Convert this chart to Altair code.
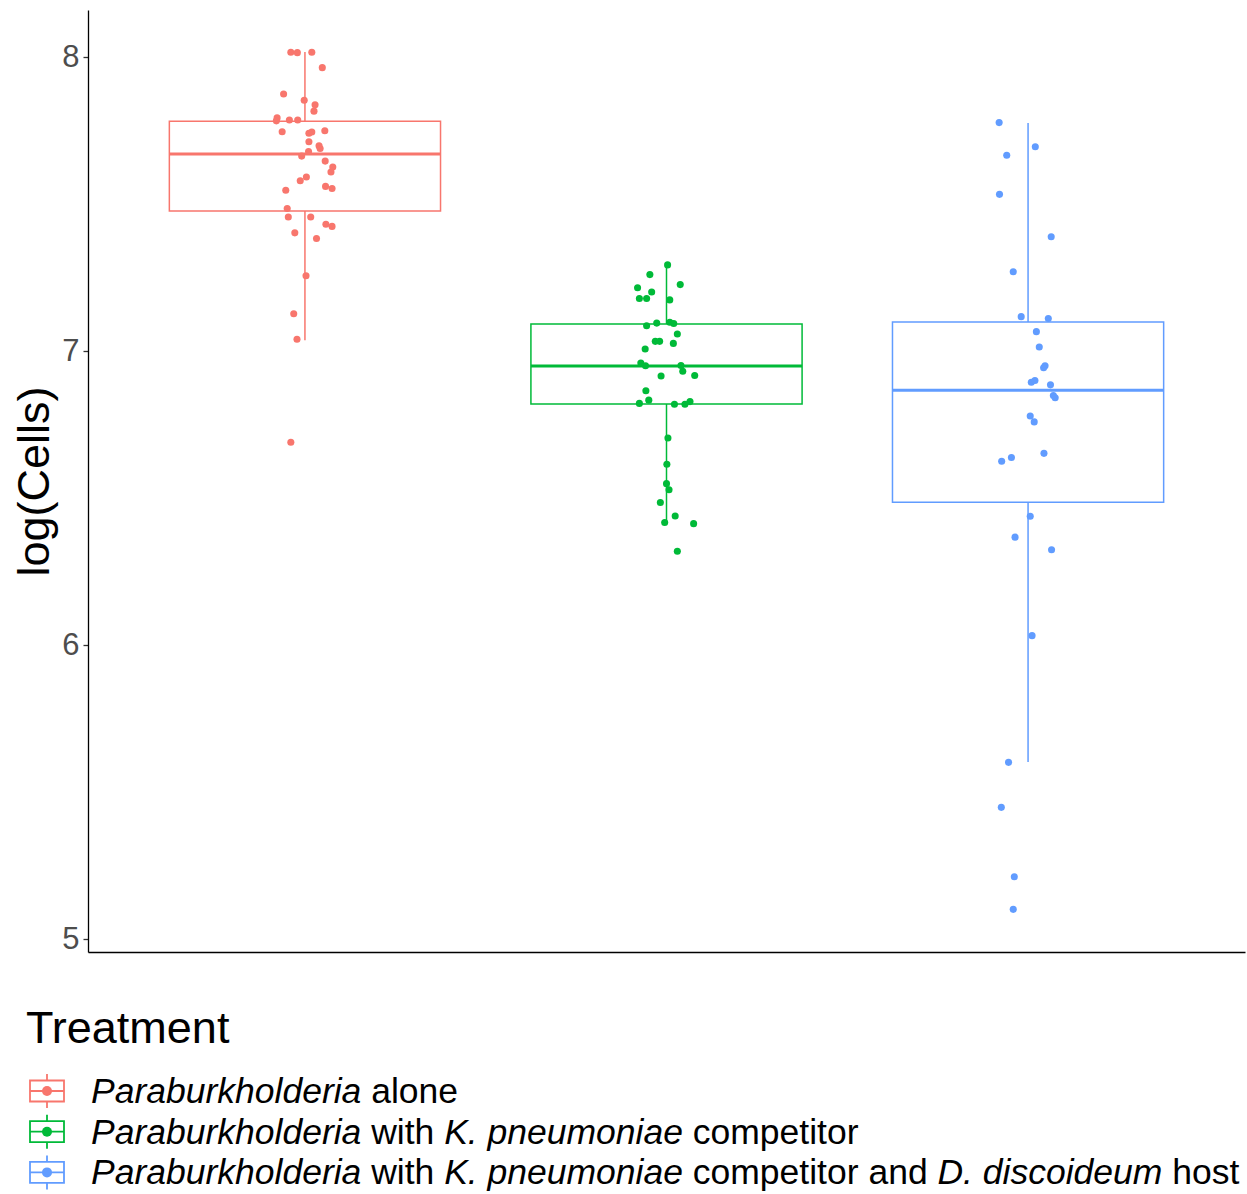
import altair as alt
import pandas as pd

# ---------------- data ----------------
treatments = [
    "Paraburkholderia alone",
    "Paraburkholderia with K. pneumoniae competitor",
    "Paraburkholderia with K. pneumoniae competitor and D. discoideum host",
]
colors = ["#F8766D", "#00BA38", "#619CFF"]

red_vals = [8.016, 8.015, 8.016, 7.964, 7.874, 7.853, 7.838, 7.816, 7.793, 7.783,
            7.786, 7.786, 7.746, 7.741, 7.745, 7.749, 7.712, 7.698, 7.689, 7.679,
            7.663, 7.646, 7.626, 7.609, 7.592, 7.579, 7.560, 7.553, 7.547, 7.485,
            7.456, 7.456, 7.431, 7.424, 7.402, 7.383, 7.256, 7.127, 7.040, 6.690]
red_jit = [-0.039, -0.021, 0.019, 0.048, -0.059, -0.002, 0.028, 0.025, -0.077, -0.079,
           -0.043, -0.020, -0.063, 0.011, 0.019, 0.055, 0.011, 0.039, 0.042, 0.010,
           -0.009, 0.056, 0.077, 0.072, 0.004, -0.013, 0.057, 0.075, -0.053, -0.049,
           -0.046, 0.016, 0.058, 0.075, -0.028, 0.032, 0.003, -0.031, -0.022, -0.039]

green_vals = [7.293, 7.260, 7.226, 7.215, 7.201, 7.179, 7.179, 7.174, 7.095, 7.086,
              7.098, 7.094, 7.058, 7.033, 7.033, 7.026, 7.007, 6.959, 6.950, 6.951,
              6.931, 6.915, 6.917, 6.865, 6.833, 6.822, 6.819, 6.819, 6.828, 6.704,
              6.615, 6.549, 6.528, 6.485, 6.439, 6.417, 6.413, 6.319]
green_jit = [0.003, -0.046, 0.038, -0.080, -0.041, -0.075, -0.055, 0.009, -0.027, -0.055,
             0.009, 0.020, 0.030, -0.031, -0.019, 0.019, -0.059, -0.071, -0.058, 0.040,
             0.045, -0.015, 0.078, -0.057, -0.049, -0.075, 0.022, 0.051, 0.065, 0.004,
             0.001, 0.000, 0.007, -0.017, 0.024, -0.005, 0.075, 0.030]

blue_vals = [7.777, 7.695, 7.666, 7.533, 7.389, 7.270, 7.117, 7.111, 7.066, 7.014,
             6.943, 6.950, 6.894, 6.900, 6.885, 6.849, 6.841, 6.779, 6.759, 6.652,
             6.638, 6.625, 6.438, 6.367, 6.324, 6.032, 5.601, 5.448, 5.212, 5.101]
blue_jit = [-0.080, 0.020, -0.059, -0.079, 0.064, -0.041, -0.019, 0.056, 0.023, 0.031,
            0.043, 0.047, 0.009, 0.019, 0.062, 0.070, 0.075, 0.006, 0.017, 0.044,
            -0.046, -0.073, 0.006, -0.036, 0.065, 0.011, -0.054, -0.074, -0.038, -0.041]

# box statistics (whisker ends, quartiles, median)
box_lower = [7.037, 6.418, 5.602]
box_q1 = [7.476, 6.820, 6.486]
box_median = [7.670, 6.949, 6.867]
box_q3 = [7.782, 7.092, 7.099]
box_upper = [8.017, 7.293, 7.776]

y_ticks = [5, 6, 7, 8]

# ---------------- tables ----------------
rows = []
for i, (vals, jit) in enumerate([(red_vals, red_jit), (green_vals, green_jit), (blue_vals, blue_jit)]):
    for v, j in zip(vals, jit):
        rows.append({"treatment": treatments[i], "pos": i + 1 + j, "cells": v})
pts = pd.DataFrame(rows)

BOX_HALF = 0.375
box = pd.DataFrame({
    "treatment": treatments,
    "pos": [1, 2, 3],
    "left": [k - BOX_HALF for k in (1, 2, 3)],
    "right": [k + BOX_HALF for k in (1, 2, 3)],
    "lower": box_lower, "q1": box_q1, "median": box_median,
    "q3": box_q3, "upper": box_upper,
})

FONT = "Liberation Sans"
xscale = alt.Scale(domain=[0.4, 3.6], nice=False, zero=False)
yscale = alt.Scale(domain=[4.956, 8.160], nice=False, zero=False)
xaxis = alt.Axis(labels=False, ticks=False, title=None, grid=False,
                 domainColor="black", domainWidth=1.3)
yaxis = alt.Axis(values=y_ticks, title="log(Cells)", grid=False, format="d",
                 labelFontSize=31, labelColor="#4D4D4D", labelFont=FONT, labelPadding=4,
                 tickColor="#333333", tickSize=5, tickWidth=1.3,
                 domainColor="black", domainWidth=1.3,
                 titleFontSize=45, titleFont=FONT, titleColor="black",
                 titleFontWeight="normal", titlePadding=4)
cscale = alt.Scale(domain=treatments, range=colors)
col = alt.Color("treatment:N", scale=cscale, legend=None)
stk = alt.Stroke("treatment:N", scale=cscale, legend=None)

base_box = alt.Chart(box)

rects = base_box.mark_rect(fillOpacity=0, strokeWidth=1.5).encode(
    x=alt.X("left:Q", scale=xscale, axis=xaxis), x2="right:Q",
    y=alt.Y("q1:Q", scale=yscale, axis=yaxis), y2="q3:Q",
    stroke=stk,
)
whisk_up = base_box.mark_rule(strokeWidth=1.5).encode(
    x=alt.X("pos:Q", scale=xscale, axis=xaxis),
    y=alt.Y("q3:Q", scale=yscale, axis=yaxis), y2="upper:Q",
    color=col,
)
whisk_lo = base_box.mark_rule(strokeWidth=1.5).encode(
    x=alt.X("pos:Q", scale=xscale, axis=xaxis),
    y=alt.Y("lower:Q", scale=yscale, axis=yaxis), y2="q1:Q",
    color=col,
)
medians = base_box.mark_rule(strokeWidth=3).encode(
    x=alt.X("left:Q", scale=xscale, axis=xaxis), x2="right:Q",
    y=alt.Y("median:Q", scale=yscale, axis=yaxis),
    color=col,
)
points = alt.Chart(pts).mark_circle(size=50, opacity=1).encode(
    x=alt.X("pos:Q", scale=xscale, axis=xaxis),
    y=alt.Y("cells:Q", scale=yscale, axis=yaxis),
    color=col,
)

# ---------------- manual legend (mixed italic text) ----------------
OX, OY = 88, 10  # plot origin inside the canvas
ARIAL = {'P': 667, 'a': 556, 'r': 333, 'b': 556, 'u': 556, 'k': 500, 'h': 556, 'o': 556,
         'l': 222, 'd': 556, 'e': 556, 'i': 222, ' ': 278, 'w': 722, 't': 278, 'K': 667,
         '.': 278, 'p': 556, 'n': 556, 'm': 833, 'c': 500, 'D': 722, 's': 500}


def tw(s, size):
    return sum(ARIAL.get(ch, 556) for ch in s) * size / 1000.0


one = pd.DataFrame({"k": [0]})
legend_layers = []
legend_layers.append(
    alt.Chart(one).mark_text(align="left", baseline="alphabetic", fontSize=45, font=FONT,
                             color="black").encode(
        x=alt.value(26 - OX), y=alt.value(1043 - OY), text=alt.value("Treatment"))
)

label_segments = [
    [("Paraburkholderia", "italic"), (" alone", "normal")],
    [("Paraburkholderia", "italic"), (" with ", "normal"), ("K. pneumoniae", "italic"),
     (" competitor", "normal")],
    [("Paraburkholderia", "italic"), (" with ", "normal"), ("K. pneumoniae", "italic"),
     (" competitor and ", "normal"), ("D. discoideum", "italic"), (" host", "normal")],
]
LFS = 35.5
centers = [1091, 1131.7, 1172.4]
baselines = [1103, 1143.7, 1184.4]
for i in range(3):
    c = centers[i] - OY
    colr = colors[i]
    legend_layers.append(alt.Chart(one).mark_rect(fillOpacity=0, stroke=colr, strokeWidth=1.8).encode(
        x=alt.value(30 - OX), x2=alt.value(64 - OX), y=alt.value(c - 10.5), y2=alt.value(c + 10.5)))
    legend_layers.append(alt.Chart(one).mark_rule(color=colr, strokeWidth=1.8).encode(
        x=alt.value(47 - OX), y=alt.value(c - 17), y2=alt.value(c - 10.5)))
    legend_layers.append(alt.Chart(one).mark_rule(color=colr, strokeWidth=1.8).encode(
        x=alt.value(47 - OX), y=alt.value(c + 10.5), y2=alt.value(c + 17)))
    legend_layers.append(alt.Chart(one).mark_rule(color=colr, strokeWidth=1.8).encode(
        x=alt.value(30 - OX), x2=alt.value(64 - OX), y=alt.value(c)))
    legend_layers.append(alt.Chart(one).mark_circle(color=colr, size=100, opacity=1).encode(
        x=alt.value(47 - OX), y=alt.value(c)))
    xcur = 91.0
    for seg, style in label_segments[i]:
        lead = len(seg) - len(seg.lstrip(" "))
        txt = seg.strip(" ")
        xs = xcur + tw(" " * lead, LFS)
        legend_layers.append(
            alt.Chart(one).mark_text(align="left", baseline="alphabetic", fontSize=LFS, font=FONT,
                                     fontStyle=style, color="black").encode(
                x=alt.value(xs - OX), y=alt.value(baselines[i] - OY), text=alt.value(txt))
        )
        xcur += tw(seg, LFS)

chart = alt.layer(rects, whisk_up, whisk_lo, medians, points, *legend_layers).properties(
    width=1157, height=942,
    padding={"left": OX, "top": OY, "right": 2, "bottom": 242},
    autosize=alt.AutoSizeParams(type="none"),
    background="white",
).configure_view(strokeWidth=0, strokeOpacity=0)

chart.save("out.html", embed_options={"renderer": "svg", "actions": False})
